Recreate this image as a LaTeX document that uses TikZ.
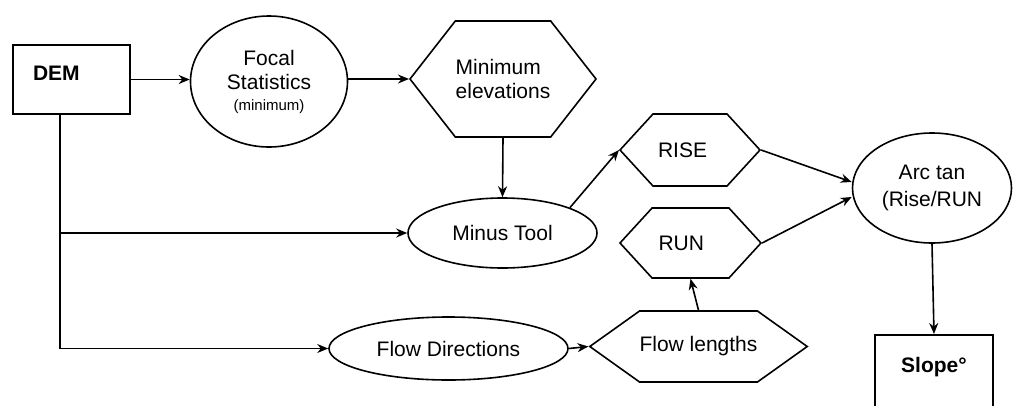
\documentclass[tikz,border=0pt]{standalone}
\usepackage{fontspec}
\setmainfont{Liberation Sans}
\usetikzlibrary{shapes.geometric,shapes.symbols,arrows.meta}

\begin{document}
\begin{tikzpicture}[x=1pt,y=-1pt,line width=1.6pt,font=\fontsize{21}{24}\selectfont,
  box/.style={draw,rectangle,line width=2pt,inner sep=0pt,font=\fontsize{21}{24}\selectfont\bfseries},
  oval/.style={draw,ellipse,inner sep=0pt,align=center},
  hexa/.style={draw,signal,signal to=west and east,inner sep=0pt,align=left},
  arr/.style={-{Stealth[length=11pt,width=9pt]}}]
\useasboundingbox (0,0) rectangle (1015,405);
\node[box,minimum width=117,minimum height=69,text width=77,align=left,text depth=13] (dem) at (71.5,79.5) {DEM};
\node[oval,minimum width=157,minimum height=131] (focal) at (269,81.5) {Focal\\Statistics\\[-3pt]{\fontsize{15}{17}\selectfont(minimum)}};
\node[hexa,minimum width=186,minimum height=116,signal pointer angle=104] (minel) at (503,79) {Minimum\\elevations};
\node[oval,minimum width=189,minimum height=70] (minus) at (502.5,233) {Minus Tool};
\node[hexa,minimum width=140,minimum height=72,signal pointer angle=95,text width=64] (rise) at (690,150) {RISE};
\node[hexa,minimum width=141,minimum height=70,signal pointer angle=95,text width=64] (run) at (690.5,243) {RUN};
\node[oval,minimum width=239,minimum height=63] (flowdir) at (448.5,348.5) {Flow Directions};
\node[hexa,minimum width=213,minimum height=71,signal pointer angle=71] (flowlen) at (698.5,346.5) {Flow lengths};
\node[oval,minimum width=159,minimum height=110] (arctan) at (932,188) {Arc tan\\[3pt](Rise/RUN};
\node[box,minimum width=118,minimum height=72,text depth=12] (slope) at (934,371) {Slope°};
\coordinate (trunk) at (60,233);
\coordinate (corner) at (60,348.5);
% connectors
\draw[arr] (dem.east) -- (dem.east -| focal.west);
\draw[arr] (minel.west -| focal.east) -- (minel.west);
\draw[arr] (minel.south) -- (minus.north);
\draw[arr] (dem.south -| trunk) -- (corner) -- (flowdir.west);
\draw[arr] (trunk) -- (minus.west);
\draw[arr] (minus.north east) -- (rise.west);
\draw[arr] (rise.east) -- ([yshift=6pt]arctan.west);
\draw[arr] (run.east) -- ([yshift=-9pt]arctan.west);
\draw[arr] (flowdir.east) -- (flowlen.west);
\draw[arr] (flowlen.north) -- (run.south);
\draw[arr] (arctan.south) -- (slope.north);
\end{tikzpicture}
\end{document}
